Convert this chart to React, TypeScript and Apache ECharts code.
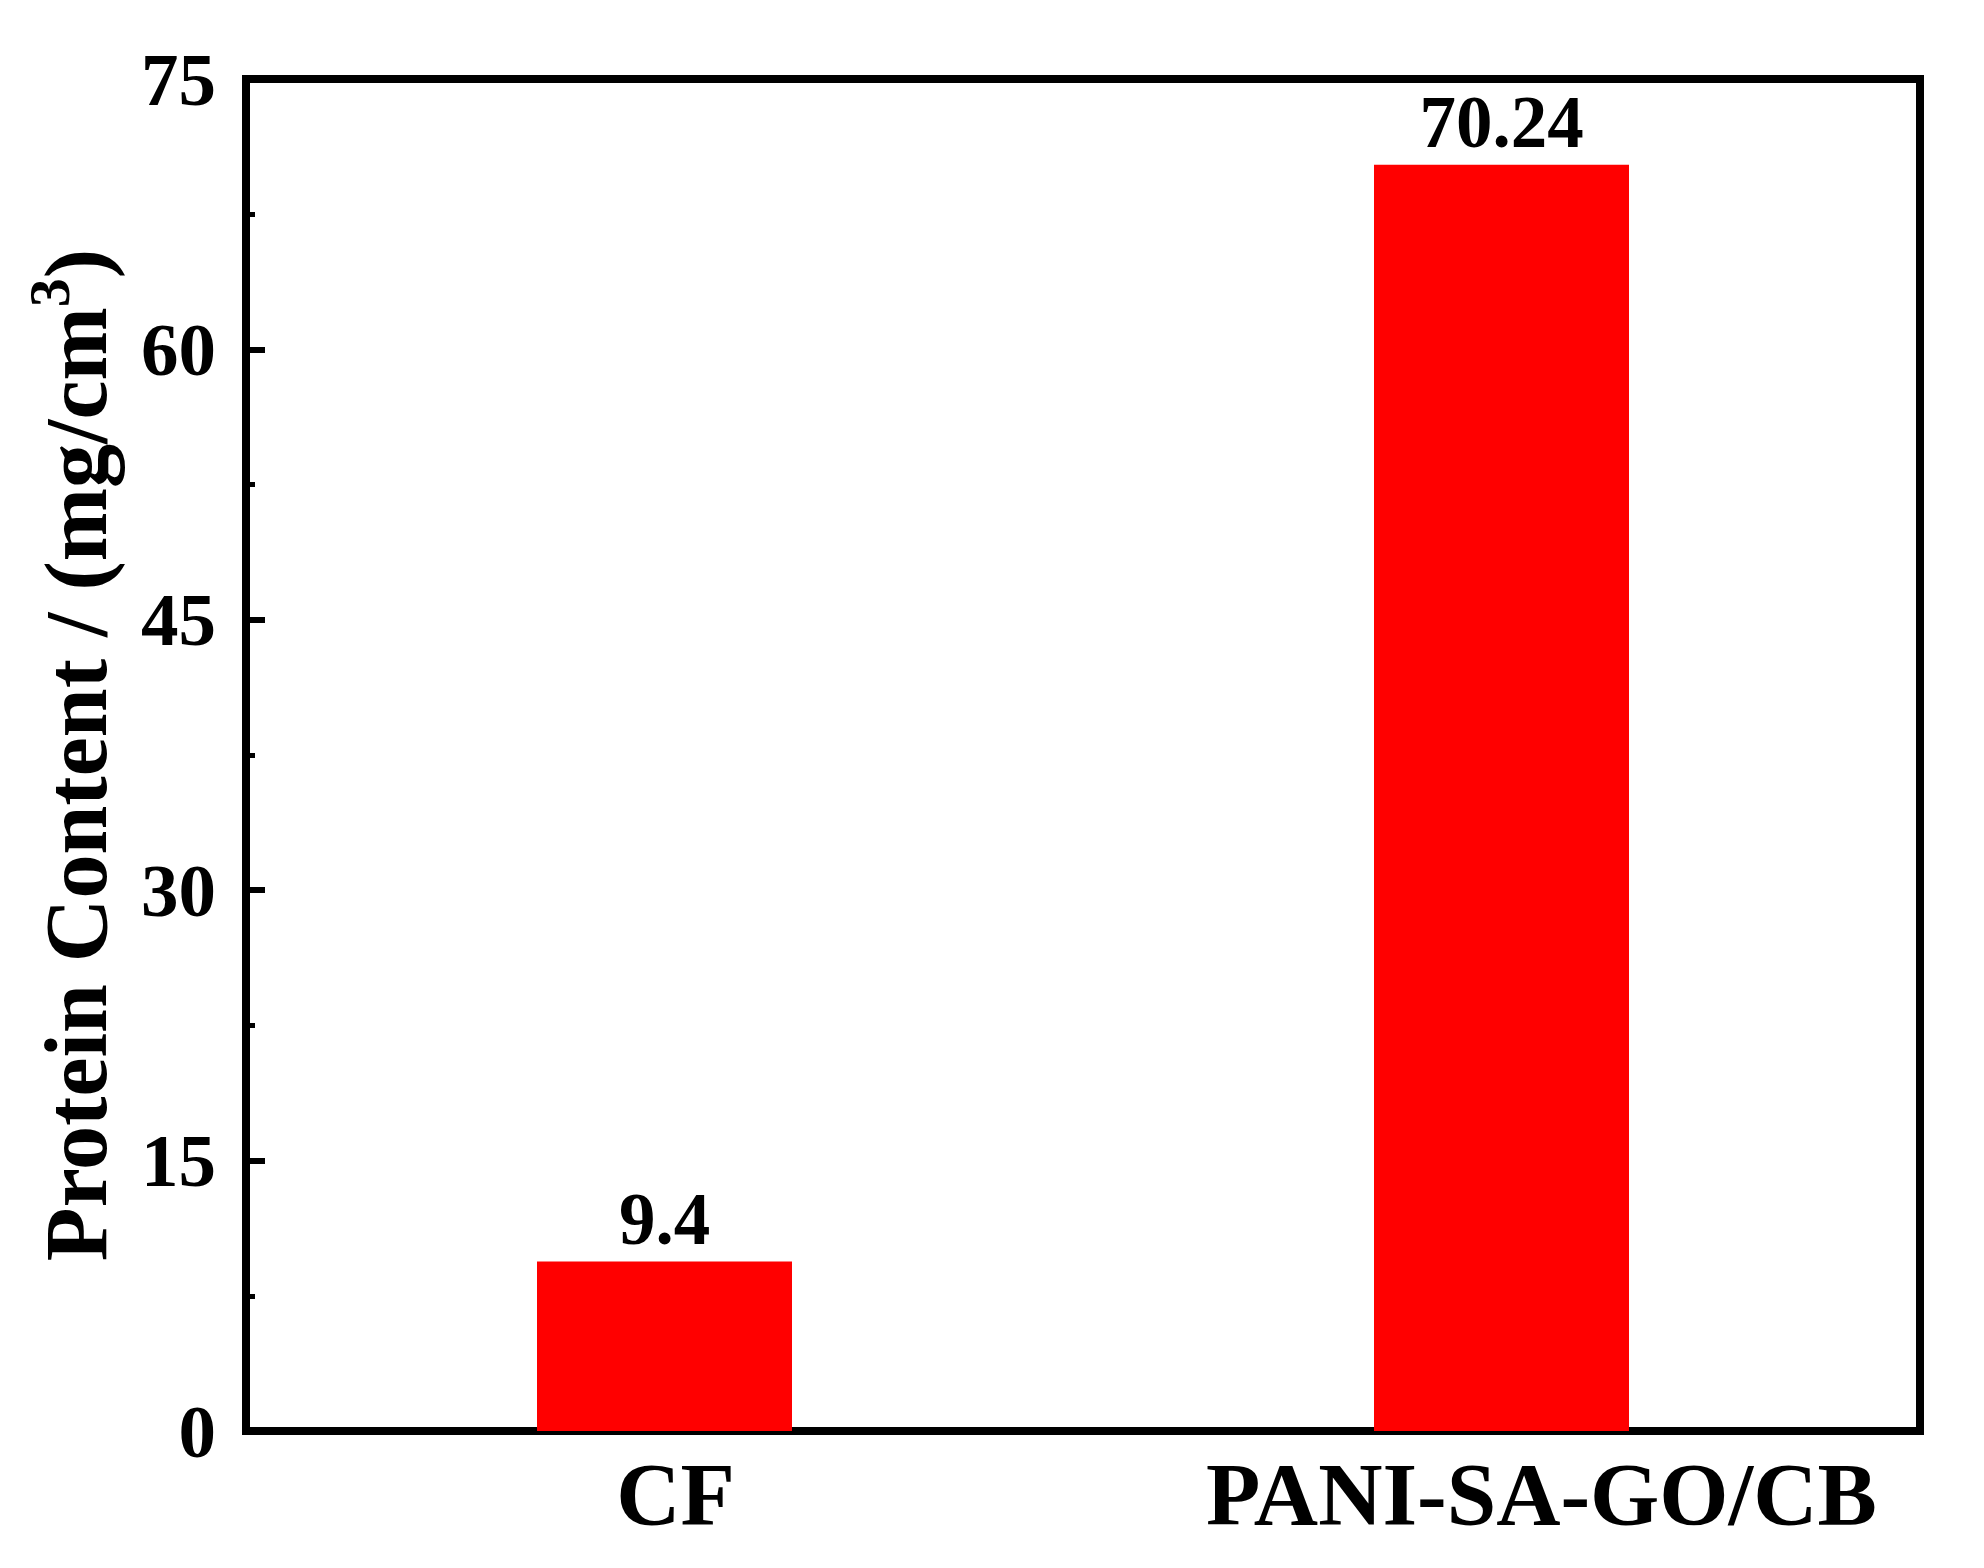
import React, { useEffect, useRef } from "react";
import * as echarts from "echarts";

const categories = ["CF", "PANI-SA-GO/CB"];
const proteinValues = [9.4, 70.24];
const valueLabels = ["9.4", "70.24"];
const yTicks = [0, 15, 30, 45, 60, 75];

const FONT = "'Liberation Serif', 'Times New Roman', serif";

export default function App() {
  const ref = useRef<HTMLDivElement>(null);
  useEffect(() => {
    if (!ref.current) return;
    const chart = echarts.init(ref.current, null, { renderer: "svg" });
    const xLabelStyle = {
      color: "#000",
      fontFamily: FONT,
      fontWeight: "bold",
      fontSize: 89,
    };
    chart.setOption({
      animation: false,
      backgroundColor: "#ffffff",
      grid: {
        left: 246,
        right: 64,
        top: 79,
        bottom: 137,
        containLabel: false,
        outerBoundsMode: "none",
        show: true,
        borderColor: "#000",
        borderWidth: 8,
        backgroundColor: "transparent",
      },
      xAxis: {
        type: "category",
        data: categories,
        axisLine: { show: true, lineStyle: { color: "#000", width: 8 } },
        axisTick: { show: false },
        axisLabel: {
          interval: 0,
          margin: 18,
          formatter: (v: string, i: number) => (i === 0 ? `{c|${v}}` : `{p|${v}}`),
          rich: {
            c: { ...xLabelStyle, padding: [0, 0, 0, 22] },
            p: { ...xLabelStyle, padding: [0, 0, 0, 80] },
          },
        },
      },
      yAxis: {
        type: "value",
        min: yTicks[0],
        max: yTicks[yTicks.length - 1],
        interval: 15,
        name: "{a|Protein Content / (mg/cm}{s|3}{a|)}",
        nameLocation: "middle",
        nameRotate: 90,
        nameGap: 126,
        nameTextStyle: {
          rich: {
            a: {
              fontFamily: FONT,
              fontWeight: "bold",
              fontSize: 88,
              color: "#000",
              lineHeight: 100,
              verticalAlign: "bottom",
            },
            s: {
              fontFamily: FONT,
              fontWeight: "bold",
              fontSize: 58,
              color: "#000",
              lineHeight: 100,
              verticalAlign: "top",
            },
          },
        },
        axisLine: { show: true, lineStyle: { color: "#000", width: 8 } },
        axisTick: {
          show: true,
          inside: true,
          length: 19,
          lineStyle: { color: "#000", width: 6 },
        },
        minorTick: {
          show: true,
          splitNumber: 2,
          length: 9,
          lineStyle: { color: "#000", width: 5 },
        },
        splitLine: { show: false },
        axisLabel: {
          color: "#000",
          fontFamily: FONT,
          fontWeight: "bold",
          fontSize: 75,
          margin: 30,
        },
      },
      series: [
        {
          type: "bar",
          data: proteinValues,
          barWidth: 255,
          itemStyle: { color: "#FF0000" },
          label: {
            show: true,
            position: "top",
            distance: 6,
            color: "#000",
            fontFamily: FONT,
            fontWeight: "bold",
            fontSize: 73,
            formatter: (p: any) => valueLabels[p.dataIndex],
          },
        },
      ],
    });
    return () => chart.dispose();
  }, []);
  return (
    <div
      ref={ref}
      style={{ position: "fixed", left: 0, top: 0, width: 1984, height: 1568, background: "#fff" }}
    />
  );
}
